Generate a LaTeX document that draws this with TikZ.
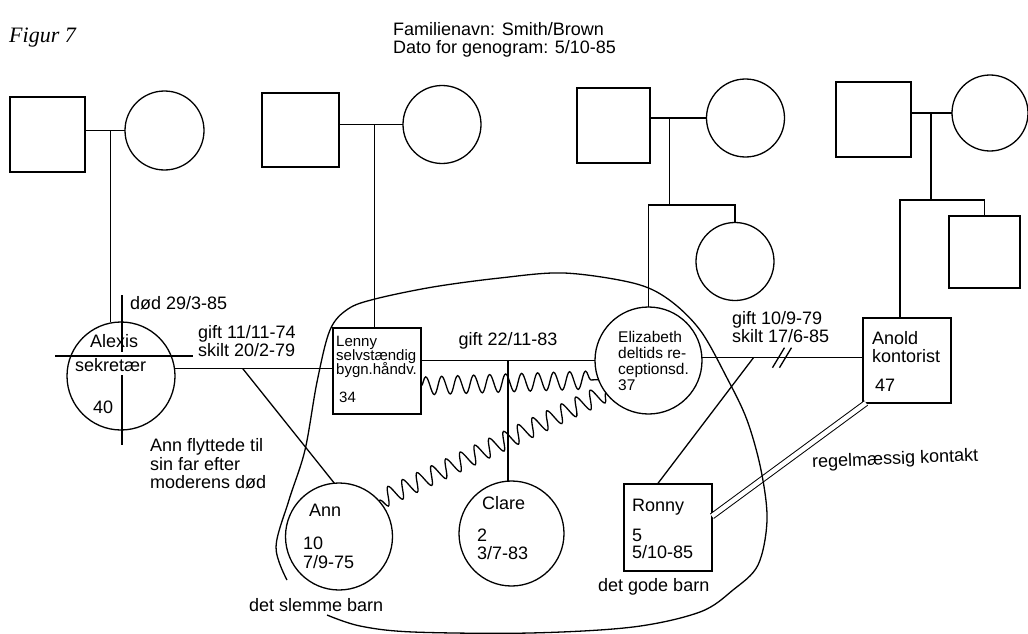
\documentclass[tikz,border=0pt]{standalone}
\usepackage{fontspec}
\setmainfont{Liberation Sans}
\newfontfamily\figfont{Liberation Serif}
\usetikzlibrary{decorations.pathmorphing,calc}
\newcommand\myfs[2]{\fontsize{#1}{#2}\selectfont\lineskiplimit=-100pt\relax}
\begin{document}
\begin{tikzpicture}[x=1pt,y=-1pt,
  ln/.style={line width=1.3pt},
  person/.style={draw, line width=1.3pt, inner sep=0pt, outer sep=0pt},
  mal/.style={person, rectangle},
  fem/.style={person, circle},
  lbl/.style={inner sep=0pt, anchor=north west, align=left, font=\myfs{18}{18}},
  lbls/.style={inner sep=0pt, anchor=north west, align=left, font=\myfs{15}{14}},
  wave/.style={ln, decorate, decoration={snake, segment length=16pt, amplitude=9pt}},
  ring/.style={line width=1.3pt, smooth, tension=0.55},
]
\useasboundingbox (0,0) rectangle (1028,634);
\fill[white] (0,0) rectangle (1028,634);

% ---------- grandparents ----------
\node[mal, minimum width=75pt, minimum height=75pt] (gf1) at (47.5,134.5) {};
\node[fem, minimum size=79pt] (gm1) at (164.5,130.5) {};
\node[mal, minimum width=77pt, minimum height=74pt] (gf2) at (300.5,130) {};
\node[fem, minimum size=78pt] (gm2) at (442,124.5) {};
\node[mal, minimum width=73pt, minimum height=75pt] (gf3) at (613.5,125.5) {};
\node[fem, minimum size=78pt] (gm3) at (745.5,118) {};
\node[mal, minimum width=75pt, minimum height=75pt] (gf4) at (873.5,119.5) {};
\node[fem, minimum size=76pt] (gm4) at (990,113) {};
\node[fem, minimum size=78pt] (sis3) at (735,261.5) {};
\node[mal, minimum width=71pt, minimum height=72pt] (bro4) at (984.5,252) {};

% ---------- main generation ----------
\node[fem, minimum size=108pt] (alexis) at (121,376) {};
\node[mal, minimum width=88pt, minimum height=86pt] (lenny) at (377,371) {};
\node[fem, minimum size=107pt] (eliz) at (648.5,360.5) {};
\node[mal, minimum width=88pt, minimum height=85pt] (anold) at (907,360.5) {};

% ---------- children ----------
\node[fem, minimum size=107pt] (ann) at (339,536.5) {};
\node[fem, minimum size=105pt] (clare) at (511.5,533.5) {};
\node[mal, minimum width=88pt, minimum height=87pt] (ronny) at (668,527.5) {};

% ---------- grandparent couples ----------
\draw[ln] (gf1.east |- gm1.west) -- (gm1.west);
\coordinate (m1) at ($(gf1.east |- gm1.west)!0.63!(gm1.west)$);
\draw[ln] (m1) -- (m1 |- alexis.north);

\draw[ln] (gf2.east |- gm2.west) -- (gm2.west);
\coordinate (m2) at ($(gf2.east |- gm2.west)!0.56!(gm2.west)$);
\draw[ln] (m2) -- (m2 |- lenny.north);

\draw[ln] (gf3.east |- gm3.west) -- (gm3.west);
\coordinate (m3) at ($(gf3.east |- gm3.west)!0.35!(gm3.west)$);
\coordinate (b3) at ($(m3)+(0,87)$);
\draw[ln] (m3) -- (b3);
\draw[ln] (eliz.north) -- (eliz.north |- b3) -- (sis3.north |- b3) -- (sis3.north);

\draw[ln] (gf4.east |- gm4.west) -- (gm4.west);
\coordinate (m4) at ($(gf4.east |- gm4.west)!0.49!(gm4.west)$);
\coordinate (b4) at ($(m4)+(0,87)$);
\coordinate (a4) at ($(anold.north west)!0.42!(anold.north east)$);
\draw[ln] (m4) -- (b4);
\draw[ln] (a4) -- (a4 |- b4) -- (bro4.north |- b4) -- (bro4.north);

% ---------- Alexis - Lenny ----------
\draw[ln] (alexis.8.5) -- (lenny.west |- alexis.8.5);
\coordinate (k1) at ($(alexis.8.5)!0.43!(lenny.west |- alexis.8.5)$);
\draw[ln] (k1) -- (ann.95);
% death mark
\draw[ln] ($(alexis.center)+(1,-81)$) -- ($(alexis.center)+(1,-24)$);
\draw[ln] ($(alexis.center)+(1,-1)$) -- ($(alexis.center)+(1,69)$);
\draw[ln] ($(alexis.center)+(-66,-20)$) -- ($(alexis.center)+(72,-20)$);

% ---------- Lenny - Elizabeth ----------
\draw[ln] (lenny.east |- eliz.west) -- (eliz.west);
\coordinate (k2) at ($(lenny.east |- eliz.west)!0.5!(eliz.west)$);
\draw[ln] (k2) -- (k2 |- clare.north);
\draw[wave] ($(lenny.east)+(0,15)$) -- (eliz.201);
\draw[wave] (eliz.217) -- (ann.42);

% ---------- Elizabeth - Anold ----------
\draw[ln] (eliz.3) -- (anold.west |- eliz.3);
\coordinate (k3) at ($(eliz.3)!0.32!(anold.west |- eliz.3)$);
\coordinate (rt) at ($(ronny.north west)!0.38!(ronny.north east)$);
\draw[ln] (k3) -- (rt);
\draw[ln] ($(k3)+(19,10)$) -- ++(12,-20);
\draw[ln] ($(k3)+(26,10)$) -- ++(12,-20);

% regular contact
\draw[line width=1pt, double, double distance=4.5pt]
  ($(ronny.north east)!0.37!(ronny.south east)$) -- ($(anold.south west)+(3,0)$);

% ---------- household boundary ----------
\draw[ring] plot coordinates {(287,580) (276,547) (289,500) (305,450) (317,382) (330,330) (348,309) (375,299) (433,287) (500,278) (564,273) (633,283) (668,299) (700,330) (727,378) (747,420) (761,470) (767,520) (758,565) (733,590) (700,612) (633,627) (530,633) (413,632) (360,626) (327,615)};

% ---------- texts ----------
\node[inner sep=0pt, anchor=north west, font=\figfont\itshape\fontsize{22}{22}\selectfont] (fig) at (9,28) {Figur 7};
\node[lbl] (hdr) at (393,22) {Familienavn: Smith/Brown\\Dato for genogram: 5/10-85};

\node[lbl] (dod) at (130,296.5) {død 29/3-85};
\node[lbl] (g1) at (198,325.5) {gift 11/11-74\\skilt 20/2-79};
\node[lbl] (an1) at (90,334.5) {Alexis};
\node[lbl] (an2) at (75,358.5) {sekretær};
\node[lbl] (an3) at (93,400.5) {40};
\node[lbl, font=\myfs{18}{18.5}] (move) at (150,438.5) {Ann flyttede til\\sin far efter\\moderens død};

\node[lbls] (ln1) at (336,335.6) {Lenny\\selvstændig\\bygn.håndv.};
\node[lbls] (ln2) at (339,391.6) {34};
\node[lbl, anchor=north] (g2) at (508,332.5) {gift 22/11-83};

\node[inner sep=0pt, anchor=north west, align=left, font=\myfs{15.5}{16}] (el) at (618,331.4) {Elizabeth\\deltids re-\\ceptionsd.\\37};
\node[lbl] (g3) at (732,311.5) {gift 10/9-79\\skilt 17/6-85};
\node[lbl] (ar1) at (872,331.5) {Anold\\kontorist};
\node[lbl] (ar2) at (875,378.5) {47};
\node[inner sep=0pt, anchor=west, rotate=2.3, font=\myfs{18}{18}] (reg) at (812,463) {regelmæssig kontakt};

\node[lbl] (a1) at (309,503.5) {Ann};
\node[lbl, font=\myfs{18}{19}] (a2) at (303,536.5) {10\\7/9-75};
\node[lbl] (c1) at (482,496.5) {Clare};
\node[lbl] (c2) at (477,528.5) {2\\3/7-83};
\node[lbl] (r1) at (632,498.5) {Ronny};
\node[lbl, font=\myfs{18}{17}] (r2) at (632,528.5) {5\\5/10-85};
\node[lbl] (bad) at (249,598.5) {det slemme barn};
\node[lbl] (good) at (598,578.5) {det gode barn};
\end{tikzpicture}
\end{document}
